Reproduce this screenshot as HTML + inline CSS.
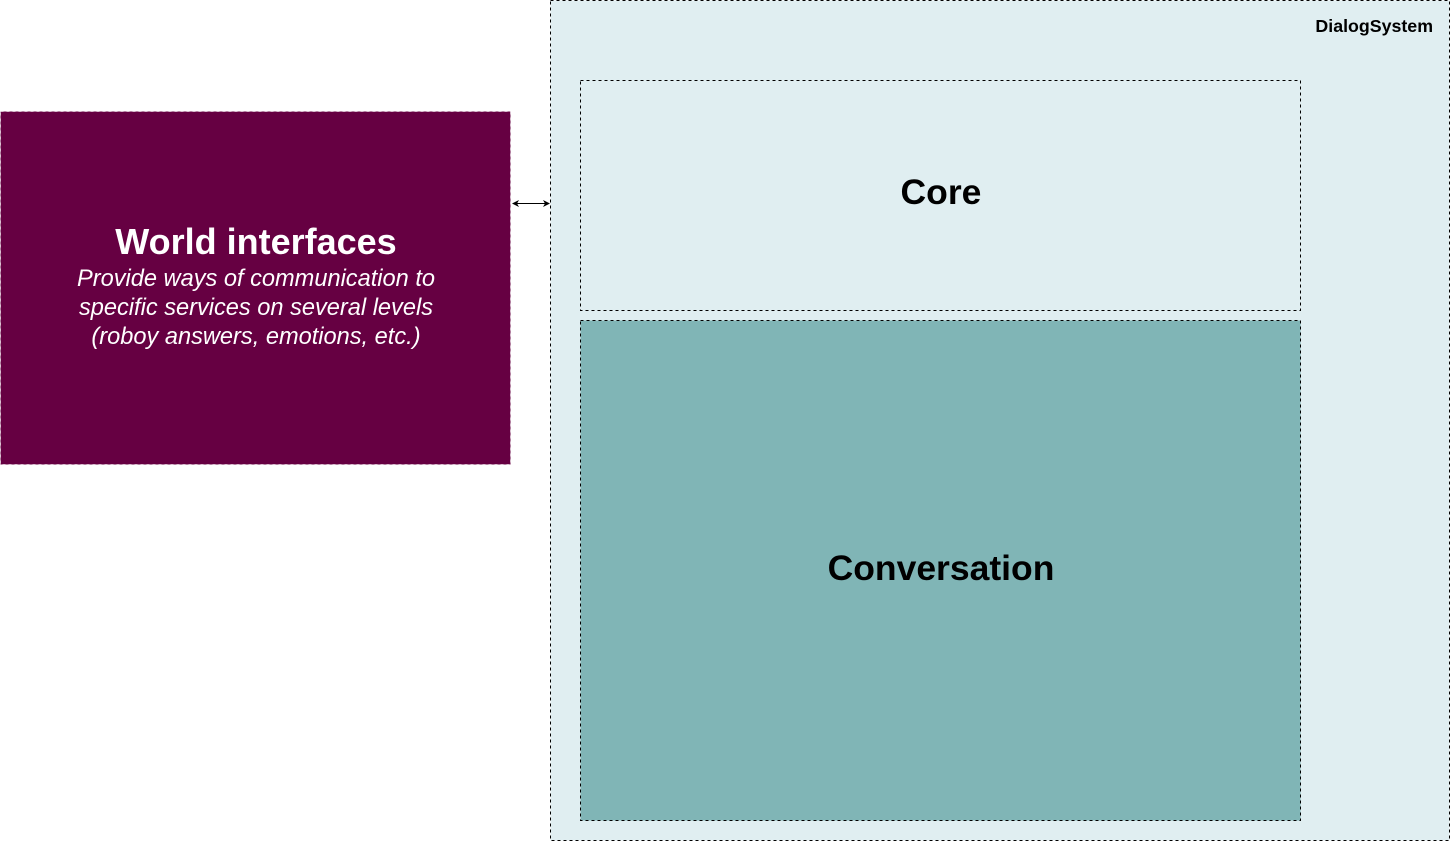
<!DOCTYPE html>
<html><head><meta charset="utf-8"><style>
body{margin:0;width:1451px;height:842px;background:#fff;position:relative;overflow:hidden;font-family:"Liberation Sans",Helvetica,Arial,sans-serif}
</style></head><body>
<svg width="1451" height="842" style="position:absolute;left:0;top:0">
<rect x="550.5" y="0.5" width="899" height="840" fill="#e0eef1" stroke="#000" stroke-dasharray="3,3"/>
<rect x="580.5" y="80.5" width="720" height="230" fill="#e0eef1" stroke="#000" stroke-dasharray="3,3"/>
<rect x="580.5" y="320.5" width="720" height="500" fill="#80b5b6" stroke="#000" stroke-dasharray="3,3"/>
<rect x="0.5" y="111.5" width="510" height="353" fill="#660042" stroke="#fff" stroke-opacity="0.5" stroke-dasharray="3,3"/>
<line x1="516" y1="203.5" x2="545" y2="203.5" stroke="#000" stroke-width="1"/>
<path d="M512 203.5 L519 200 L517 203.5 L519 207 Z" fill="#000"/>
<path d="M550 203.5 L543 200 L545 203.5 L543 207 Z" fill="#000"/>
<text x="1433" y="32" text-anchor="end" font-family="Liberation Sans" font-weight="bold" font-size="17.8">DialogSystem</text>
<text x="941" y="204" text-anchor="middle" font-family="Liberation Sans" font-weight="bold" font-size="35.5">Core</text>
<text x="941" y="580" text-anchor="middle" font-family="Liberation Sans" font-weight="bold" font-size="35.5">Conversation</text>
<text x="256" y="254" text-anchor="middle" fill="#fff" font-family="Liberation Sans" font-weight="bold" font-size="36">World interfaces</text>
<text x="256" y="286" text-anchor="middle" fill="#fff" font-family="Liberation Sans" font-style="italic" font-size="23.6">Provide ways of communication to</text>
<text x="256" y="315" text-anchor="middle" fill="#fff" font-family="Liberation Sans" font-style="italic" font-size="23.6">specific services on several levels</text>
<text x="256" y="344" text-anchor="middle" fill="#fff" font-family="Liberation Sans" font-style="italic" font-size="23.6">(roboy answers, emotions, etc.)</text>
</svg>
</body></html>
